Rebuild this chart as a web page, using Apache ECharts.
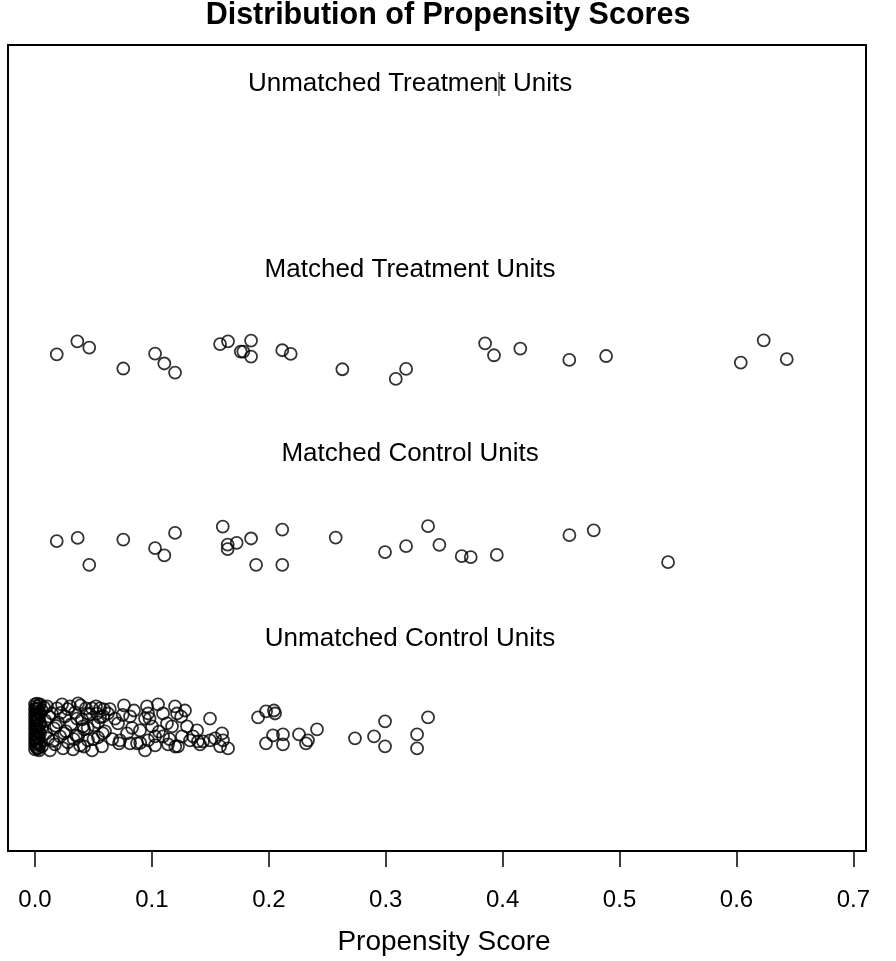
<!DOCTYPE html>
<html>
<head>
<meta charset="utf-8">
<script src="https://cdn.jsdelivr.net/npm/echarts@6/dist/echarts.min.js"></script>
<style>html,body{margin:0;padding:0;background:#fff}#c{width:896px;height:961px}</style>
</head>
<body>
<div id="c"></div>
<script>
// Row labels and their vertical positions
var rowNames = ['Unmatched Treatment Units', 'Matched Treatment Units', 'Matched Control Units', 'Unmatched Control Units'];
var rowY = [3.951, 2.957, 1.967, 0.978];
var labelX = 0.3208;

// Tick labels of the x axis
var xTicks = [0.0, 0.1, 0.2, 0.3, 0.4, 0.5, 0.6, 0.7];

// Matched treatment units (propensity score, jittered row position)
var mtX = [0.0186,0.0362,0.0464,0.0755,0.1027,0.1106,0.1198,0.1583,0.1651,0.1760,0.1782,0.1848,0.1848,0.2115,0.2187,0.2629,0.3086,0.3174,0.3850,0.3926,0.4151,0.4570,0.4885,0.6037,0.6233,0.6430];
var mtY = [2.502,2.572,2.538,2.426,2.506,2.453,2.404,2.557,2.572,2.517,2.517,2.576,2.490,2.524,2.504,2.422,2.370,2.424,2.561,2.497,2.533,2.472,2.493,2.458,2.577,2.476];

// Matched control units
var mcX = [0.0186,0.0365,0.0464,0.0755,0.1027,0.1106,0.1198,0.1606,0.1648,0.1648,0.1725,0.1848,0.1891,0.2115,0.2115,0.2572,0.2994,0.3174,0.3362,0.3459,0.3650,0.3727,0.3950,0.4571,0.4779,0.5415];
var mcY = [1.501,1.518,1.374,1.509,1.463,1.424,1.545,1.579,1.482,1.458,1.492,1.515,1.374,1.563,1.374,1.520,1.442,1.474,1.581,1.481,1.420,1.415,1.427,1.533,1.559,1.388];

// Unmatched control units
var ucX = [
0,0,0,0,0,0,0,0,0,0,
0.0009,0.0009,0.0009,0.0009,0.0009,0.0009,0.0009,0.0009,0.0009,
0.0017,0.0017,0.0017,0.0017,0.0017,0.0017,0.0017,0.0017,0.0017,
0.0026,0.0026,0.0026,0.0026,0.0026,
0.0035,0.0035,0.0035,0.0035,0.0035,0.0035,0.0035,0.0035,
0.0043,0.0043,0.0043,0.0043,0.0043,
0.0060,0.0060,0.0060,
0.0086,0.0103,0.0111,0.0128,0.0145,0.0163,0.0171,0.0188,0.0197,0.0214,0.0231,0.0240,0.0257,0.0265,0.0282,0.0299,0.0308,0.0325,0.0342,0.0351,0.0368,0.0385,0.0402,0.0419,0.0436,0.0453,0.0470,0.0488,0.0505,0.0522,0.0539,0.0556,0.0573,0.0590,0.0599,
0.0077,0.0094,0.0120,0.0154,0.0180,0.0220,0.0248,0.0280,0.0330,0.0360,0.0390,0.0420,0.0450,0.0500,0.0540,0.0580,0.0640,0.0660,0.0750,0.0830,0.0900,0.0980,0.1060,0.1150,0.1250,0.1200,
0.0368,0.0411,0.0445,0.0488,0.0530,0.0556,0.0582,0.0624,0.0710,0.0727,0.0787,0.0813,0.0873,0.0958,0.0967,0.1001,0.0967,0.1027,0.0941,0.1095,0.1129,0.1095,0.1172,0.1198,0.1215,0.1257,0.1300,0.1352,0.1386,0.1394,0.1437,0.1497,0.1497,0.1600,0.1608,0.1651,
0.0684,0.0719,0.0761,0.0813,0.0847,0.0898,0.0941,0.1027,0.1052,0.1138,0.1223,0.1283,0.1326,0.1411,0.1540,0.1583,
0.1908,0.1976,0.2044,0.2053,0.1976,0.2036,0.2121,0.2121,0.2258,0.2318,0.2335,0.2412,0.2737,0.2900,0.2994,0.2994,0.3268,0.3268,0.3362
];
var ucY = [
0.626,0.599,0.572,0.545,0.518,0.492,0.465,0.438,0.412,0.385,
0.615,0.588,0.561,0.535,0.508,0.481,0.454,0.428,0.401,
0.630,0.600,0.570,0.540,0.510,0.480,0.450,0.420,0.390,
0.604,0.550,0.497,0.444,0.390,
0.620,0.585,0.550,0.515,0.480,0.445,0.410,0.380,
0.626,0.577,0.524,0.470,0.417,
0.593,0.502,0.401,
0.540,0.615,0.444,0.379,0.577,0.497,0.412,0.604,0.529,0.454,0.626,0.390,0.561,0.481,0.422,0.615,0.518,0.385,0.583,0.460,0.631,0.406,0.545,0.492,0.604,0.433,0.572,0.379,0.513,0.615,0.449,0.556,0.401,0.599,0.481,
0.610,0.470,0.560,0.430,0.510,0.580,0.470,0.600,0.440,0.550,0.620,0.400,0.500,0.440,0.530,0.470,0.600,0.440,0.570,0.500,0.420,0.550,0.480,0.440,0.560,0.400,
0.454,0.508,0.577,0.604,0.577,0.604,0.561,0.577,0.524,0.433,0.470,0.561,0.417,0.615,0.577,0.508,0.433,0.406,0.379,0.577,0.524,0.454,0.508,0.615,0.577,0.454,0.508,0.454,0.486,0.428,0.428,0.550,0.433,0.470,0.433,0.390,
0.550,0.417,0.620,0.417,0.593,0.486,0.550,0.454,0.626,0.412,0.401,0.593,0.433,0.412,0.444,0.401,
0.556,0.588,0.593,0.577,0.417,0.460,0.465,0.412,0.465,0.417,0.433,0.492,0.444,0.454,0.535,0.401,0.465,0.390,0.556
];

function zip(a, b) { return a.map(function (v, i) { return [v, b[i]]; }); }

var FONT = "'Liberation Sans', Arial, Helvetica, sans-serif";
var pointStyle = {
  type: 'scatter', symbol: 'circle', symbolSize: 12,
  itemStyle: { color: 'rgba(0,0,0,0)', borderColor: '#000', borderWidth: 1.8 },
  emphasis: { disabled: true }, silent: true
};

var chart = echarts.init(document.getElementById('c'), null, { renderer: 'canvas' });
chart.setOption({
  animation: false,
  backgroundColor: '#fff',
  title: {
    text: 'Distribution of Propensity Scores', left: 'center', top: 0, padding: 0,
    textStyle: { fontFamily: FONT, fontWeight: 'bold', fontSize: 30.5, color: '#000' }
  },
  grid: { left: 8, right: 30, top: 45, bottom: 108, show: true, borderColor: '#000', borderWidth: 2, backgroundColor: 'transparent' },
  xAxis: {
    type: 'value', min: -0.0231, max: 0.7108,
    splitLine: { show: false },
    axisLine: { show: false, onZero: false },
    axisTick: { show: true, length: 16, inside: false, customValues: xTicks, lineStyle: { color: '#000', width: 1.5 } },
    axisLabel: { show: true, customValues: xTicks, margin: 37, fontFamily: FONT, fontSize: 24, color: '#000',
      formatter: function (v) { return v.toFixed(1); } },
    name: 'Propensity Score', nameLocation: 'middle', nameGap: 77,
    nameTextStyle: { fontFamily: FONT, fontSize: 28, color: '#000', padding: [0, 0, 0, 14] }
  },
  yAxis: { type: 'value', min: -0.16, max: 4.16, show: false, splitLine: { show: false } },
  graphic: [
    { type: 'line', shape: { x1: 499, y1: 72, x2: 499, y2: 96 }, style: { stroke: '#222', lineWidth: 1 } }
  ],
  series: [
    Object.assign({}, pointStyle, { name: 'Matched Treatment', data: zip(mtX, mtY) }),
    Object.assign({}, pointStyle, { name: 'Matched Control', data: zip(mcX, mcY) }),
    Object.assign({}, pointStyle, { name: 'Unmatched Control', data: zip(ucX, ucY) }),
    {
      type: 'scatter', symbolSize: 0, silent: true,
      data: rowY.map(function (y, i) { return { value: [labelX, y], name: rowNames[i] }; }),
      label: { show: true, position: 'inside', formatter: '{b}', fontFamily: FONT, fontSize: 26,
        color: '#000', textBorderWidth: 0, opacity: 1 }
    }
  ]
});
</script>
</body>
</html>
